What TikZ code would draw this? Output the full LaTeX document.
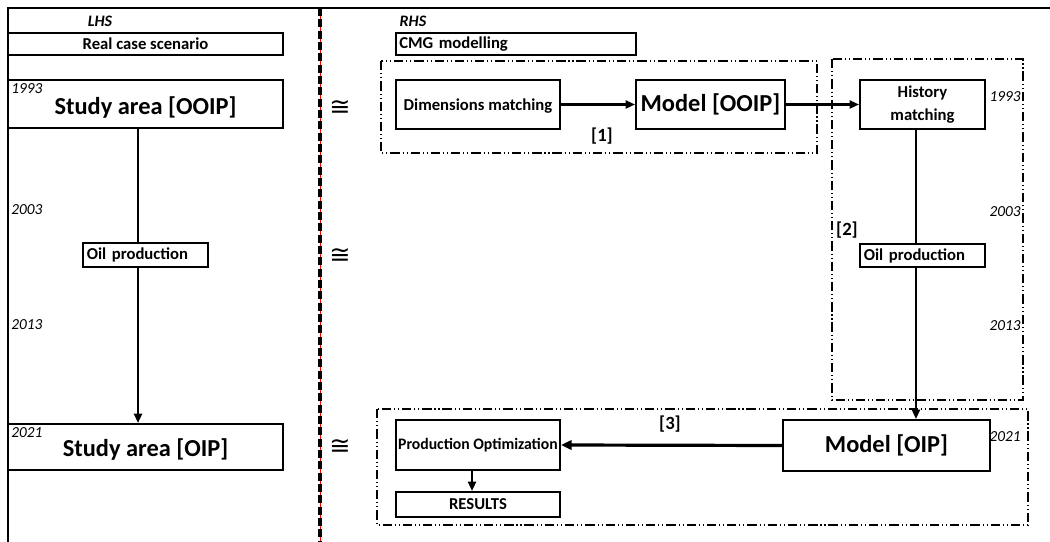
\documentclass[tikz,border=0pt]{standalone}
\usepackage{fontspec}
\setmainfont{Carlito}
\newfontfamily\dejavu{DejaVu Sans}
\usetikzlibrary{arrows.meta}
\begin{document}
\begin{tikzpicture}[x=0.75pt,y=-0.75pt,
  box/.style={draw, line width=1.5pt, inner sep=2pt, font=\bfseries},
  bigtxt/.style={font=\fontsize{18.3}{20}\selectfont\bfseries},
  midtxt/.style={font=\fontsize{12.5}{17}\selectfont\bfseries},
  yr/.style={font=\fontsize{11.5}{13}\selectfont\itshape, inner sep=0pt},
  ddot/.style={line width=1pt, dash pattern=on 7pt off 2.2pt on 0.8pt off 2.2pt on 0.8pt off 2.2pt},
  conn/.style={line width=1.6pt},
  arr/.style={conn, -{Triangle[length=7pt,width=6pt]}},
  tag/.style={font=\fontsize{14}{16}\selectfont\bfseries, inner sep=0pt},
  cg/.style={font=\dejavu\fontsize{19}{19}\selectfont, inner sep=0pt}]
\useasboundingbox (0,0) rectangle (1050,542);
% frame
\draw[line width=1.5pt] (1050,8) -- (8,8) -- (8,542);
% divider
\draw[red, line width=0.4pt] (320,8) -- (320,542);
\draw[line width=2.4pt, dash pattern=on 6pt off 2.5pt] (320,8) -- (320,542);
% headings
\node[font=\fontsize{12}{13}\selectfont\bfseries\itshape, inner sep=0pt] (lhs) at (100,21) {LHS};
\node[font=\fontsize{12}{13}\selectfont\bfseries\itshape, inner sep=0pt] (rhs) at (413,21) {RHS};
% dash-dot groups
\draw[ddot] (381,61) rectangle (817,153);
\draw[ddot] (832,59) rectangle (1023,400);
\draw[ddot] (377,409) rectangle (1028,525);
% LHS boxes
\node[box, midtxt, minimum width=206.25pt, minimum height=16.5pt] (rcs) at (145.5,44) {Real case scenario};
\node[box, bigtxt, minimum width=206.25pt, minimum height=36pt] (sa1) at (145.5,104) {\raisebox{-3pt}[\height][\depth]{Study area [OOIP]}};
\node[box, midtxt, minimum width=93.75pt, minimum height=18pt, text width=88pt, align=left] (op1) at (145.5,255) {Oil production};
\node[box, bigtxt, minimum width=206.25pt, minimum height=34.5pt] (sa2) at (145.5,447) {\raisebox{-2pt}[\height][\depth]{Study area [OIP]}};
% RHS boxes
\node[box, midtxt, minimum width=180pt, minimum height=16.5pt, text width=175pt, align=left] (cmg) at (516,44) {CMG modelling};
\node[box, midtxt, minimum width=123pt, minimum height=36.75pt] (dim) at (478,104.5) {\raisebox{-1.5pt}[\height][\depth]{Dimensions matching}};
\node[box, bigtxt, minimum width=111.75pt, minimum height=36.75pt] (mo1) at (710.5,104.5) {Model [OOIP]};
\node[box, midtxt, minimum width=93.75pt, minimum height=36.75pt, align=center, inner sep=0pt] (hm) at (922.5,104.5) {History\\matching};
\node[box, midtxt, minimum width=93.75pt, minimum height=17.25pt, text width=88pt, align=left] (op2) at (922.5,255.5) {Oil production};
\node[box, bigtxt, minimum width=155.25pt, minimum height=38.25pt] (moo) at (886.5,445.5) {Model [OIP]};
\node[box, font=\fontsize{12}{14}\selectfont\bfseries, minimum width=123pt, minimum height=37.5pt, inner sep=0pt] (po) at (478,445) {\scalebox{0.98}[1]{Production Optimization}};
\node[box, midtxt, minimum width=123pt, minimum height=18.75pt, inner sep=0pt] (res) at (478,504.5) {RESULTS};
% years
\node[yr, anchor=west] (y1) at (11,89) {1993};
\node[yr, anchor=west] (y2) at (11,210) {2003};
\node[yr, anchor=west] (y3) at (11,325) {2013};
\node[yr, anchor=west] (y4) at (11,433) {2021};
\node[yr, anchor=east] (y5) at (1021,97) {1993};
\node[yr, anchor=east] (y6) at (1021,212) {2003};
\node[yr, anchor=east] (y7) at (1021,326) {2013};
\node[yr, anchor=east] (y8) at (1021,437) {2021};
% tags
\node[tag] (t1) at (602,136) {[1]};
\node[tag] (t2) at (847,230) {[2]};
\node[tag] (t3) at (670,424) {[3]};
% cong
\node[cg] (c1) at (340,108) {≅};
\node[cg] (c2) at (340,256) {≅};
\node[cg] (c3) at (340,447) {≅};
% connectors LHS
\draw[conn] ([xshift=-5.6pt]sa1.south) -- ([xshift=-5.6pt]sa1.south |- op1.north);
\draw[arr] ([xshift=-5.6pt]op1.south) -- ([xshift=-5.6pt]op1.south |- sa2.north);
% connectors RHS
\draw[arr] (dim.east) -- (mo1.west);
\draw[arr] (mo1.east) -- (hm.west);
\draw[conn] ([xshift=-4.9pt]hm.south) -- ([xshift=-4.9pt]hm.south |- op2.north);
\draw[arr] ([xshift=-4.9pt]op2.south) -- ([xshift=-4.9pt]op2.south |- moo.north);
\draw[line width=2.4pt, -{Triangle[length=8pt,width=7pt]}] (moo.west) -- (po.east);
\draw[arr] ([xshift=-4.5pt]po.south) -- ([xshift=-4.5pt]po.south |- res.north);
\end{tikzpicture}
\end{document}
